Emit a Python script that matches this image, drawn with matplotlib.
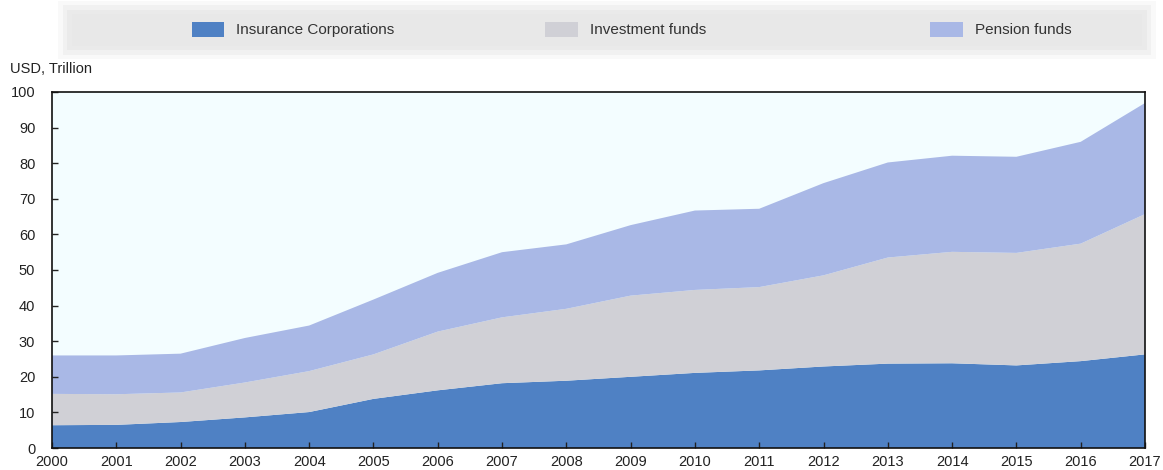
import numpy as np
import matplotlib
matplotlib.use("Agg")
import matplotlib.pyplot as plt
from matplotlib.patches import Rectangle

plt.rcParams['font.family'] = ['Liberation Sans Narrow', 'Liberation Sans', 'DejaVu Sans']

years = list(range(2000, 2018))
insurance = [6.4, 6.5, 7.3, 8.6, 10.1, 13.8, 16.2, 18.2, 18.9, 20.0, 21.1, 21.8, 22.9, 23.7, 23.8, 23.2, 24.4, 26.3]
investment = [8.8, 8.6, 8.3, 9.8, 11.5, 12.5, 16.5, 18.5, 20.2, 22.8, 23.3, 23.4, 25.6, 29.8, 31.3, 31.6, 33.0, 39.4]
pension = [10.8, 10.9, 10.9, 12.5, 12.8, 15.4, 16.5, 18.3, 18.1, 19.8, 22.3, 22.0, 25.9, 26.7, 27.0, 27.0, 28.6, 31.2]

labels = ["Insurance Corporations", "Investment funds", "Pension funds"]
colors = ["#4f81c4", "#d0d0d6", "#a9b8e6"]

fig = plt.figure(figsize=(11.63, 4.70), dpi=100)
ax = fig.add_axes([0.0447, 0.0468, 0.9398, 0.7575])
ax.set_facecolor("#f3fdff")

ax.stackplot(years, insurance, investment, pension, colors=colors, linewidth=0)

ax.set_xlim(2000, 2017)
ax.set_ylim(0, 100)
ax.set_xticks(years)
ax.set_yticks(range(0, 101, 10))
ax.tick_params(direction="in", length=4, width=1, labelsize=10.5, colors="#222222")
ax.tick_params(axis="y", pad=12)
ax.tick_params(axis="x", pad=5)
for s in ax.spines.values():
    s.set_linewidth(1.2)
    s.set_color("#111111")

fig.text(0.009, 0.838, "USD, Trillion", fontsize=10.5, color="#222222", ha="left", va="bottom")

# legend band across the top, with soft edges
for i, a in enumerate([0.25, 0.45, 0.7, 1.0]):
    pad = (3 - i) * 0.004
    fig.patches.append(Rectangle((0.062 - pad, 0.903 - pad * 2.4), 0.92 + 2 * pad, 0.067 + pad * 4.8,
                                 transform=fig.transFigure, facecolor="#e8e8e8", edgecolor="none",
                                 alpha=a, zorder=0))

legend_x = [0.165, 0.469, 0.800]
for x, lab, c in zip(legend_x, labels, colors):
    fig.patches.append(Rectangle((x, 0.921), 0.028, 0.032, transform=fig.transFigure,
                                 facecolor=c, edgecolor="none", zorder=2))
    fig.text(x + 0.038, 0.937, lab, fontsize=11, color="#333333", ha="left", va="center", zorder=3)

fig.savefig("out.png", dpi=100)
